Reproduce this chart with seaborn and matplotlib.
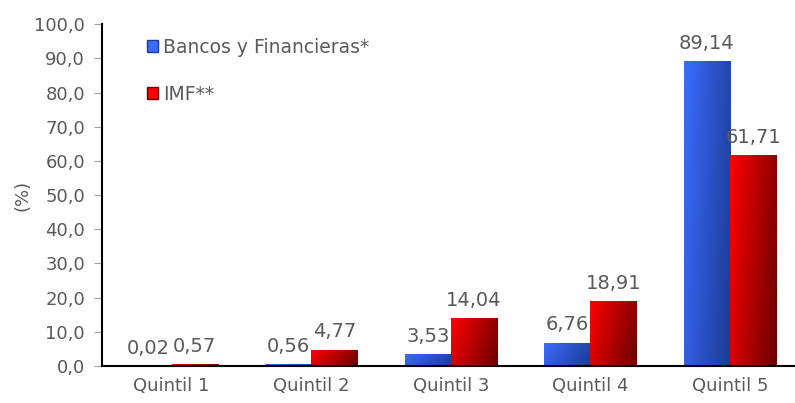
import numpy as np
import pandas as pd
import seaborn as sns
import matplotlib.pyplot as plt
from matplotlib.patches import Patch
from matplotlib.colors import to_rgb

# data
quintiles = ["Quintil 1", "Quintil 2", "Quintil 3", "Quintil 4", "Quintil 5"]
bancos = [0.02, 0.56, 3.53, 6.76, 89.14]
imf = [0.57, 4.77, 14.04, 18.91, 61.71]
series = ["Bancos y Financieras*", "IMF**"]

df = pd.DataFrame({
    "quintil": quintiles * 2,
    "valor": bancos + imf,
    "serie": [series[0]] * 5 + [series[1]] * 5,
})

txt = "#595959"
blue1, blue2 = "#3a6cff", "#1c3a92"
red1, red2 = "#ff0000", "#6a0000"

sns.set_style("white")
plt.rcParams["font.family"] = ["DejaVu Sans"]

fig = plt.figure(figsize=(7.95, 4.03), dpi=100)
# plot area runs a little past the right edge, as in the original
ax = fig.add_axes([0.128, 0.092, 0.878, 0.848])

sns.barplot(data=df, x="quintil", y="valor", hue="serie", order=quintiles,
            hue_order=series, palette=[blue1, red1], width=0.66,
            saturation=1, legend=False, ax=ax)


def gradient(ax, patch, c1, c2):
    # excel-style diagonal gradient, light top-left to dark bottom-right
    x, y = patch.get_x(), patch.get_y()
    w, h = patch.get_width(), patch.get_height()
    if h <= 0:
        return
    U, V = np.meshgrid(np.linspace(0, 1, 80), np.linspace(0, 1, 80))
    t = 0.75 * U + 0.25 * (1 - V)
    a, b = np.array(to_rgb(c1)), np.array(to_rgb(c2))
    img = a[None, None, :] * (1 - t[..., None]) + b[None, None, :] * t[..., None]
    im = ax.imshow(img, extent=[x, x + w, y, y + h], origin="lower",
                   aspect="auto", zorder=2, interpolation="bilinear")
    im.set_clip_path(patch)
    patch.set_facecolor("none")
    patch.set_edgecolor("none")


cols = [(blue1, blue2), (red1, red2)]
for i, cont in enumerate(ax.containers):
    for p in cont.patches:
        gradient(ax, p, *cols[i])
    labs = [f"{v:.2f}".replace(".", ",") for v in cont.datavalues]
    ax.bar_label(cont, labels=labs, padding=6, color=txt, fontsize=14)

ax.set_xlim(-0.5, 4.5)
ax.set_ylim(0, 100)
ax.set_yticks(np.arange(0, 101, 10))
ax.set_yticklabels([f"{v:.1f}".replace(".", ",") for v in np.arange(0, 101, 10)])
ax.set_xticks(np.arange(0.5, 4, 1), minor=True)
ax.tick_params(axis="x", which="major", length=0, pad=8, labelsize=13, labelcolor=txt)
ax.tick_params(axis="x", which="minor", length=6, color="#a0a0a0", direction="out")
ax.tick_params(axis="y", length=6, color="#a0a0a0", direction="out", labelsize=13,
               labelcolor=txt, pad=6, left=True)

ax.set_xlabel("")
ax.set_ylabel("(%)", color=txt, fontsize=13, labelpad=2)

sns.despine(ax=ax)
for s in ["left", "bottom"]:
    ax.spines[s].set_color("black")
    ax.spines[s].set_linewidth(1.5)

handles = [Patch(facecolor=blue1, edgecolor=blue2), Patch(facecolor=red1, edgecolor=red2)]
leg = ax.legend(handles, series, loc="upper left", bbox_to_anchor=(0.04, 1.01),
                frameon=False, fontsize=13.5, handlelength=0.6, handleheight=0.6,
                handletextpad=0.3, labelspacing=1.5)
for t in leg.get_texts():
    t.set_color(txt)

fig.savefig("out.png", dpi=100)
